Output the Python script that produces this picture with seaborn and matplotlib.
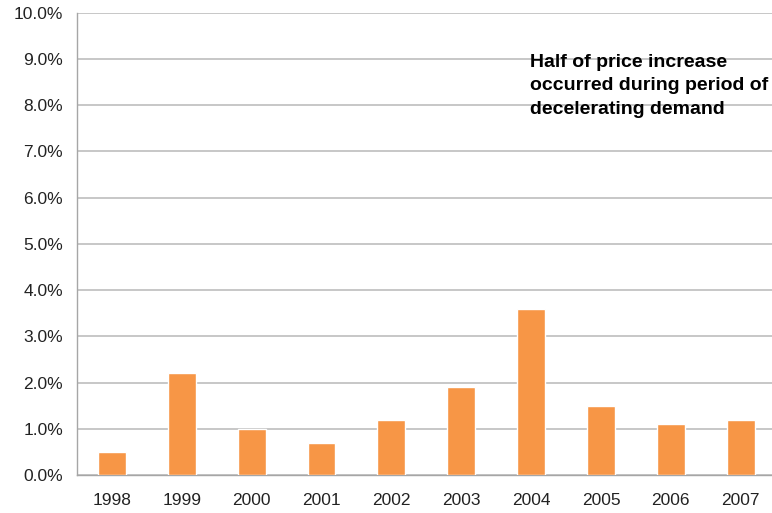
import numpy as np
import pandas as pd
import matplotlib
matplotlib.use('Agg')
import matplotlib.pyplot as plt
import seaborn as sns
from matplotlib.ticker import FuncFormatter, MultipleLocator

# Data
years = ['1998', '1999', '2000', '2001', '2002', '2003', '2004', '2005', '2006', '2007']
growth = [0.5, 2.2, 1.0, 0.7, 1.2, 1.9, 3.6, 1.5, 1.1, 1.2]
note = 'Half of price increase\noccurred during period of\ndecelerating demand'

df = pd.DataFrame({'year': years, 'growth': growth})

sns.set_style('white')
plt.rcParams['font.family'] = ['Liberation Sans', 'DejaVu Sans']

fig = plt.figure(figsize=(7.72, 5.13), dpi=100)
ax = fig.add_axes([0.0997, 0.074, 0.905, 0.901])

sns.barplot(data=df, x='year', y='growth', color='#F79646', saturation=1,
            width=0.4, ax=ax, zorder=3)

ax.set_ylim(0, 10)
ax.set_xlim(-0.5, 9.5)
ax.yaxis.set_major_locator(MultipleLocator(1))
ax.yaxis.set_major_formatter(FuncFormatter(lambda v, p: f'{v:.1f}%'))
ax.grid(axis='y', color='#BEBEBE', linewidth=1.2, zorder=0)
ax.set_axisbelow(True)

# tick marks between categories
ax.set_xticks(np.arange(-0.5, 10, 1), minor=True)
ax.tick_params(axis='x', which='minor', length=6, color='#A6A6A6', width=1, direction='out')
ax.tick_params(axis='x', which='major', length=0, labelsize=12.5, pad=13, labelcolor='#222222')
ax.tick_params(axis='y', length=5, color='#A6A6A6', width=1, direction='out',
               labelsize=12.5, pad=5, labelcolor='#222222')

for s in ['top', 'right']:
    ax.spines[s].set_visible(False)
for s in ['left', 'bottom']:
    ax.spines[s].set_color('#A6A6A6')
    ax.spines[s].set_linewidth(1)

ax.set_xlabel('')
ax.set_ylabel('')

ax.text(0.648, 0.911, note, transform=ax.transAxes, fontsize=14,
        fontweight='bold', va='top', ha='left', linespacing=1.5, color='black')

fig.savefig('out.png', dpi=100)
